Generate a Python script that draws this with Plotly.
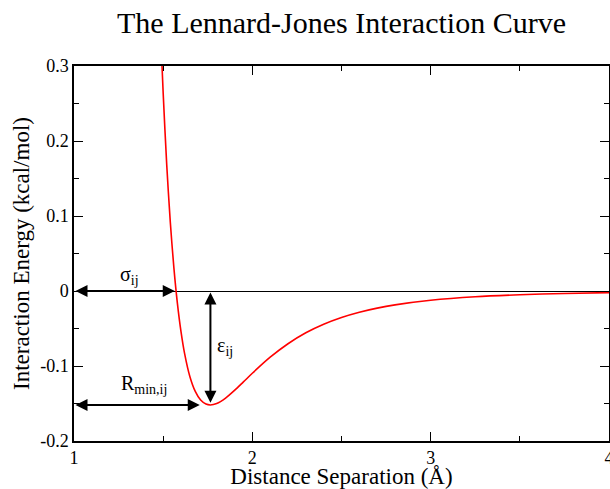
import plotly.graph_objects as go

# Lennard-Jones energy curve sampled at separation distances (Å) and energies (kcal/mol)
distance = [1.49, 1.50, 1.52, 1.54, 1.56, 1.58, 1.60, 1.62, 1.65, 1.68, 1.71, 1.74,
            1.765, 1.80, 1.85, 1.90, 1.95, 2.00, 2.10, 2.20, 2.30, 2.40, 2.50, 2.60,
            2.70, 2.80, 3.00, 3.25, 3.50, 3.75, 4.00]
energy = [0.3203, 0.2639, 0.1682, 0.0918, 0.0311, -0.0168, -0.0542, -0.0832, -0.1143,
          -0.1339, -0.1454, -0.1508, -0.1520, -0.1501, -0.1428, -0.1326, -0.1212,
          -0.1097, -0.0883, -0.0703, -0.0557, -0.0443, -0.0353, -0.0283, -0.0228,
          -0.0185, -0.0124, -0.0077, -0.0050, -0.0033, -0.0022]

# Characteristic parameters marked on the plot
sigma = 1.565
r_min = 1.765
epsilon = 0.152

x_ticks = [1, 2, 3, 4]
x_tick_text = ["1", "2", "3", "4"]
y_ticks = [-0.2, -0.1, 0.0, 0.1, 0.2, 0.3]
y_tick_text = ["-0.2", "-0.1", "0", "0.1", "0.2", "0.3"]

FONT = "Liberation Serif"

fig = go.Figure()
fig.add_trace(go.Scatter(
    x=distance, y=energy, mode="lines",
    line=dict(color="#ff0000", width=1.6, shape="spline", smoothing=0.8),
    showlegend=False, hoverinfo="skip",
))

arrow_style = dict(
    xref="x", yref="y", axref="x", ayref="y", text="", showarrow=True,
    arrowhead=2, startarrowhead=2, arrowside="end+start",
    arrowsize=1.2, startarrowsize=1.2, arrowwidth=2, arrowcolor="black",
    standoff=0, startstandoff=0,
)
# sigma: from origin of x axis to the zero crossing
fig.add_annotation(x=sigma, y=0, ax=1.0, ay=0, **arrow_style)
# R_min: from origin of x axis to the energy minimum
fig.add_annotation(x=r_min - 0.06, y=-epsilon, ax=1.0, ay=-epsilon, **arrow_style)
# epsilon: depth of the well
fig.add_annotation(x=r_min, y=-epsilon + 0.003, ax=r_min, ay=0, **arrow_style)

label_font = dict(family=FONT, size=20, color="black")
fig.add_annotation(x=1.31, y=0.021, text="σ<sub>ij</sub>", showarrow=False,
                   xref="x", yref="y", font=label_font)
fig.add_annotation(x=1.845, y=-0.074, text="ε<sub>ij</sub>", showarrow=False,
                   xref="x", yref="y", font=label_font)
fig.add_annotation(x=1.39, y=-0.124, text="R<sub>min,ij</sub>", showarrow=False,
                   xref="x", yref="y", font=label_font)

axis_common = dict(
    showgrid=False, showline=True, linecolor="black", linewidth=1.5,
    mirror="allticks", ticks="inside", ticklen=9, tickwidth=1, tickcolor="black",
    tickfont=dict(family=FONT, size=18, color="black"),
    ticklabeloverflow="allow", automargin=False,
)

fig.update_layout(
    width=610, height=489,
    margin=dict(l=74, r=1, t=66, b=48),
    paper_bgcolor="white", plot_bgcolor="white",
    title=dict(text="The Lennard-Jones Interaction Curve", x=0.5, xanchor="center",
               xref="paper", y=0.955, yanchor="middle",
               font=dict(family=FONT, size=30, color="black")),
    xaxis=dict(range=[1, 4], tickvals=x_ticks, ticktext=x_tick_text,
               minor=dict(dtick=0.5, ticks="inside", ticklen=5, tickcolor="black"),
               title=dict(text="Distance Separation (Å)", standoff=2,
                          font=dict(family=FONT, size=23, color="black")),
               zeroline=False, **axis_common),
    yaxis=dict(range=[-0.2, 0.3], tickvals=y_ticks, ticktext=y_tick_text,
               minor=dict(dtick=0.05, ticks="inside", ticklen=5, tickcolor="black"),
               title=dict(text="Interaction Energy (kcal/mol)", standoff=4,
                          font=dict(family=FONT, size=23, color="black")),
               zeroline=True, zerolinecolor="black", zerolinewidth=1.2,
               **axis_common),
)

fig.write_html("out.html")
